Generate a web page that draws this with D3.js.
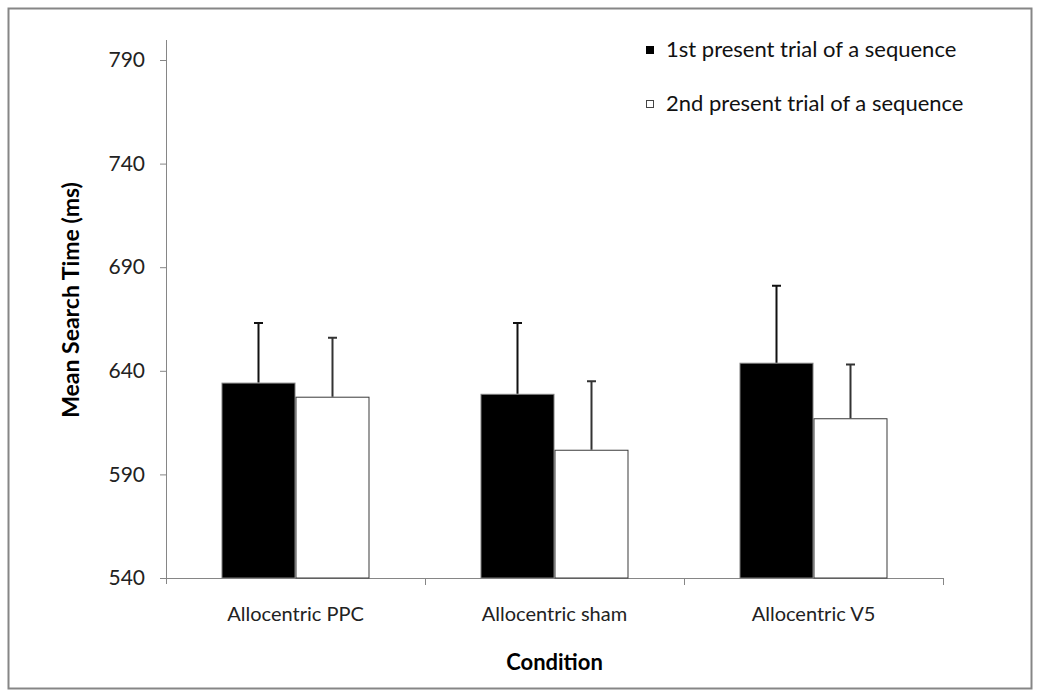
<!DOCTYPE html>
<html>
<head>
<meta charset="utf-8">
<script src="https://cdn.jsdelivr.net/npm/d3@7"></script>
<style>
  html, body { margin: 0; padding: 0; background: #fff; }
  svg { display: block; font-family: Lato, "Open Sans", sans-serif; }
</style>
</head>
<body>
<svg id="chart" width="1040" height="697"></svg>
<script>
// Mean search time per stimulation condition, two trial positions
const conditions = ["Allocentric PPC", "Allocentric sham", "Allocentric V5"];
const seriesNames = ["1st present trial of a sequence", "2nd present trial of a sequence"];
const firstTrial = [634.3, 628.9, 643.9];
const secondTrial = [627.5, 601.9, 617.1];
const firstErr = [28.8, 34.2, 37.2];
const secondErr = [28.5, 33.0, 26.0];
const yTicks = [540, 590, 640, 690, 740, 790];

const svg = d3.select("#chart");
const W = 1040, H = 697;

// outer chart frame
svg.append("rect")
  .attr("x", 8.5).attr("y", 8.5)
  .attr("width", W - 17).attr("height", H - 17)
  .attr("fill", "#fff").attr("stroke", "#868686").attr("stroke-width", 2);

const plot = { left: 166, right: 943, top: 60, bottom: 578 };

const y = d3.scaleLinear().domain([540, 790]).range([plot.bottom, plot.top]);
const x0 = d3.scaleBand().domain(conditions).range([plot.left, plot.right]).paddingInner(0.4286).paddingOuter(0.2143);
const x1 = d3.scaleBand().domain([0, 1]).range([0, x0.bandwidth()]);

const rows = conditions.map((c, i) => ({
  cond: c,
  bars: [
    { s: 0, v: firstTrial[i], e: firstErr[i] },
    { s: 1, v: secondTrial[i], e: secondErr[i] }
  ]
}));

// y axis
const yAxis = d3.axisLeft(y).tickValues(yTicks).tickSize(6).tickSizeOuter(0).tickPadding(15);
const gy = svg.append("g").attr("transform", `translate(${plot.left},0)`).call(yAxis);
gy.select(".domain").attr("stroke", "#868686").attr("d", `M0.5,${plot.top - 20}V${plot.bottom + 6}`);
gy.selectAll(".tick line").attr("stroke", "#868686");
gy.selectAll(".tick text").attr("fill", "#222").style("font-size", "21px").style("font-family", "Lato, sans-serif");

// x axis with ticks on category boundaries
const gx = svg.append("g").attr("transform", `translate(0,${plot.bottom})`);
gx.append("line").attr("x1", plot.left).attr("x2", plot.right)
  .attr("y1", 0.5).attr("y2", 0.5).attr("stroke", "#868686");
const boundaries = conditions.map(c => x0(c) + x0.bandwidth() / 2 + x0.step() / 2);
gx.selectAll("line.tk").data(boundaries).join("line").attr("class", "tk")
  .attr("x1", d => Math.round(d) + 0.5).attr("x2", d => Math.round(d) + 0.5)
  .attr("y1", 0).attr("y2", 7).attr("stroke", "#868686");
gx.selectAll("text.cat").data(conditions).join("text").attr("class", "cat")
  .attr("x", d => x0(d) + x0.bandwidth() / 2).attr("y", 43)
  .attr("text-anchor", "middle").attr("fill", "#222")
  .style("font-size", "20px").text(d => d);

// bars
const groups = svg.selectAll("g.grp").data(rows).join("g").attr("class", "grp")
  .attr("transform", d => `translate(${x0(d.cond)},0)`);

groups.selectAll("rect.bar").data(d => d.bars).join("rect").attr("class", "bar")
  .attr("x", d => x1(d.s) + 0.5)
  .attr("y", d => y(d.v) + 0.5)
  .attr("width", x1.bandwidth() - 1)
  .attr("height", d => plot.bottom - y(d.v) - 0.5)
  .attr("fill", d => d.s === 0 ? "#000" : "#fff")
  .attr("stroke", d => d.s === 0 ? "#7f7f7f" : "#3a3a3a")
  .attr("stroke-width", 1);

// error bars (upper only)
groups.selectAll("path.err").data(d => d.bars).join("path").attr("class", "err")
  .attr("d", d => {
    const cx = x1(d.s) + x1.bandwidth() / 2;
    const yt = y(d.v + d.e), yb = y(d.v);
    return `M${cx},${yb}V${yt}M${cx - 4.5},${yt}H${cx + 4.5}`;
  })
  .attr("fill", "none").attr("stroke", d => d.s === 0 ? "#111" : "#333").attr("stroke-width", 2);

// axis titles
svg.append("text")
  .attr("transform", "translate(79,300) rotate(-90)")
  .attr("text-anchor", "middle").attr("fill", "#000")
  .style("font-size", "23px").style("font-weight", "bold")
  .text("Mean Search Time (ms)");

svg.append("text")
  .attr("x", (plot.left + plot.right) / 2).attr("y", 670)
  .attr("text-anchor", "middle").attr("fill", "#000")
  .style("font-size", "22px").style("font-weight", "bold")
  .text("Condition");

// legend
const legend = svg.append("g").attr("transform", "translate(646,0)");
const legendRows = legend.selectAll("g").data(seriesNames).join("g")
  .attr("transform", (d, i) => `translate(0,${46 + i * 54})`);
legendRows.append("rect")
  .attr("x", 0.5).attr("y", 0.5).attr("width", 7).attr("height", 7)
  .attr("fill", (d, i) => i === 0 ? "#000" : "#fff")
  .attr("stroke", (d, i) => i === 0 ? "#000" : "#444");
legendRows.append("text")
  .attr("x", 20).attr("y", 10.5)
  .attr("fill", "#111").style("font-size", "22px")
  .text(d => d);
</script>
</body>
</html>
